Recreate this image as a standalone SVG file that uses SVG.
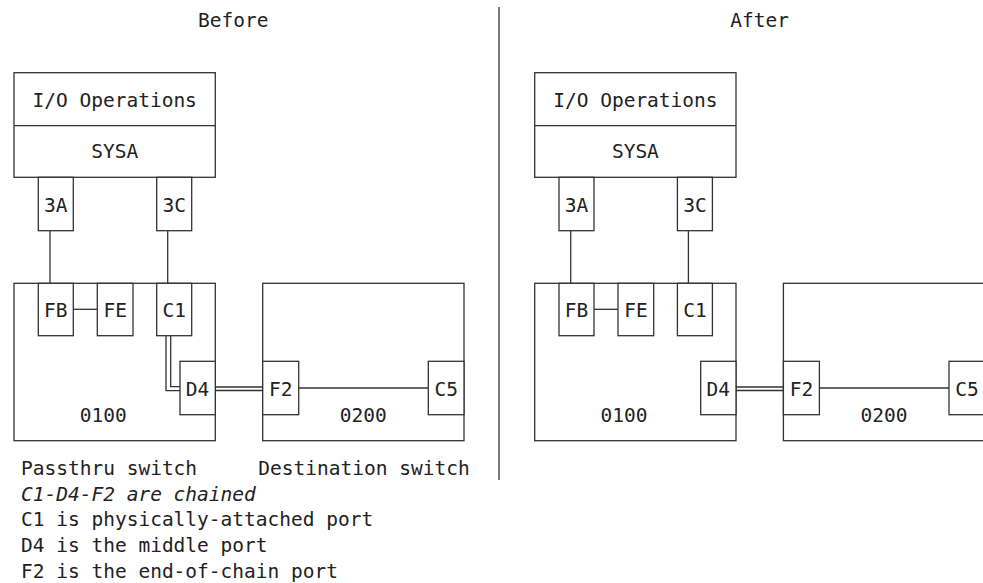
<svg xmlns="http://www.w3.org/2000/svg" width="983" height="583" viewBox="0 0 983 583">
<style>
.b{fill:#fff;stroke:#333;stroke-width:1.3}
.l{fill:none;stroke:#333;stroke-width:1.3}
text{font-family:"DejaVu Sans Mono","Liberation Mono",monospace;font-size:19.5px;fill:#222}
.m{text-anchor:middle}
.i{font-style:italic}
</style>
<rect width="983" height="583" fill="#fff"/>
<text class="m" x="233.3" y="27">Before</text>
<text class="m" x="759.7" y="27">After</text>
<line class="l" x1="499" y1="7" x2="499" y2="480" stroke="#555"/>

<g id="before">
  <g id="b-sysa">
    <rect class="b" x="14" y="72.7" width="201.3" height="104.6"/>
    <line class="l" x1="14" y1="125.7" x2="215.3" y2="125.7"/>
    <text class="m" x="114.7" y="106.7">I/O Operations</text>
    <text class="m" x="114.7" y="158.3">SYSA</text>
  </g>
  <g id="b-3A"><rect class="b" x="38.3" y="177.3" width="35" height="53.4"/><text class="m" x="55.8" y="211.7">3A</text></g>
  <g id="b-3C"><rect class="b" x="156.7" y="177.3" width="35" height="53.4"/><text class="m" x="174.2" y="211.7">3C</text></g>
  <g id="b-sw0100"><rect class="b" x="14" y="283.3" width="201.3" height="157.4"/><text class="m" x="103.3" y="421.7">0100</text></g>
  <g id="b-sw0200"><rect class="b" x="262.7" y="283.3" width="201.3" height="157.4"/><text class="m" x="363.3" y="421.7">0200</text></g>
  <g id="b-FB"><rect class="b" x="38.3" y="283.3" width="35" height="52.4"/><text class="m" x="55.8" y="316.7">FB</text></g>
  <g id="b-FE"><rect class="b" x="97.3" y="283.3" width="35.7" height="52.4"/><text class="m" x="115.2" y="316.7">FE</text></g>
  <g id="b-C1"><rect class="b" x="156.7" y="283.3" width="35" height="52.4"/><text class="m" x="174.2" y="316.7">C1</text></g>
  <g id="b-D4"><rect class="b" x="180" y="361.3" width="35.3" height="53.4"/><text class="m" x="197.6" y="396">D4</text></g>
  <g id="b-F2"><rect class="b" x="262.7" y="361.3" width="36" height="53.4"/><text class="m" x="280.7" y="396">F2</text></g>
  <g id="b-C5"><rect class="b" x="428.3" y="361.3" width="35.7" height="53.4"/><text class="m" x="446.2" y="396">C5</text></g>
  <g id="b-connectors">
    <line class="l" x1="50" y1="230.7" x2="50" y2="283.3"/>
    <line class="l" x1="167.7" y1="230.7" x2="167.7" y2="283.3"/>
    <line class="l" x1="73.3" y1="309.3" x2="97.3" y2="309.3"/>
    <polyline class="l" points="166,335.7 166,390.7 180,390.7"/>
    <polyline class="l" points="170.7,335.7 170.7,386.7 180,386.7"/>
    <line class="l" x1="215.3" y1="387" x2="262.7" y2="387"/>
    <line class="l" x1="215.3" y1="390.5" x2="262.7" y2="390.5"/>
    <line class="l" x1="298.7" y1="388" x2="428.3" y2="388"/>
  </g>
</g>

<g id="after" transform="translate(520.7,0)">
  <g id="a-sysa">
    <rect class="b" x="14" y="72.7" width="201.3" height="104.6"/>
    <line class="l" x1="14" y1="125.7" x2="215.3" y2="125.7"/>
    <text class="m" x="114.7" y="106.7">I/O Operations</text>
    <text class="m" x="114.7" y="158.3">SYSA</text>
  </g>
  <g id="a-3A"><rect class="b" x="38.3" y="177.3" width="35" height="53.4"/><text class="m" x="55.8" y="211.7">3A</text></g>
  <g id="a-3C"><rect class="b" x="156.7" y="177.3" width="35" height="53.4"/><text class="m" x="174.2" y="211.7">3C</text></g>
  <g id="a-sw0100"><rect class="b" x="14" y="283.3" width="201.3" height="157.4"/><text class="m" x="103.3" y="421.7">0100</text></g>
  <g id="a-sw0200"><rect class="b" x="262.7" y="283.3" width="201.3" height="157.4"/><text class="m" x="363.3" y="421.7">0200</text></g>
  <g id="a-FB"><rect class="b" x="38.3" y="283.3" width="35" height="52.4"/><text class="m" x="55.8" y="316.7">FB</text></g>
  <g id="a-FE"><rect class="b" x="97.3" y="283.3" width="35.7" height="52.4"/><text class="m" x="115.2" y="316.7">FE</text></g>
  <g id="a-C1"><rect class="b" x="156.7" y="283.3" width="35" height="52.4"/><text class="m" x="174.2" y="316.7">C1</text></g>
  <g id="a-D4"><rect class="b" x="180" y="361.3" width="35.3" height="53.4"/><text class="m" x="197.6" y="396">D4</text></g>
  <g id="a-F2"><rect class="b" x="262.7" y="361.3" width="36" height="53.4"/><text class="m" x="280.7" y="396">F2</text></g>
  <g id="a-C5"><rect class="b" x="428.3" y="361.3" width="35.7" height="53.4"/><text class="m" x="446.2" y="396">C5</text></g>
  <g id="a-connectors">
    <line class="l" x1="50" y1="230.7" x2="50" y2="283.3"/>
    <line class="l" x1="167.7" y1="230.7" x2="167.7" y2="283.3"/>
    <line class="l" x1="73.3" y1="309.3" x2="97.3" y2="309.3"/>
    <line class="l" x1="215.3" y1="387" x2="262.7" y2="387"/>
    <line class="l" x1="215.3" y1="390.5" x2="262.7" y2="390.5"/>
    <line class="l" x1="298.7" y1="388" x2="428.3" y2="388"/>
  </g>
</g>

<g id="notes">
  <text x="21" y="474.5">Passthru switch</text>
  <text x="258.3" y="474.5">Destination switch</text>
  <text class="i" x="21" y="500.5">C1-D4-F2 are chained</text>
  <text x="21" y="526.3">C1 is physically-attached port</text>
  <text x="21" y="551.8">D4 is the middle port</text>
  <text x="21" y="577.5">F2 is the end-of-chain port</text>
</g>
</svg>
